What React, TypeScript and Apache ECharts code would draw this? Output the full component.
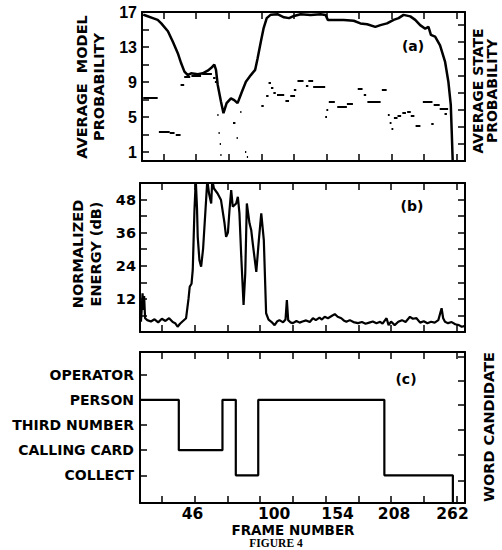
import React, { useEffect, useRef } from 'react';
import * as echarts from 'echarts';

// ---------- data ----------
const frameTicks = [19, 46, 73, 100, 127, 154, 181, 208, 235, 262];
const frameLabels = [46, 100, 154, 208, 262];

// (a) average model probability (solid line)
const modelFrames = [2, 4, 10, 14, 17, 22.5, 26.6, 30.7, 33.5, 36.2, 39, 41.7, 47.3, 51.4, 55.5, 58.3, 61, 62.4, 63.8, 66.5, 68.6, 71.2, 74.8, 77.5, 80.3, 83.9, 87.2, 91.3, 94.9, 96.9, 99.6, 101.8, 104.5, 107.9, 113.4, 118.8, 123, 127.1, 132.6, 140.9, 149.2, 153.3, 155.2, 160.2, 168.4, 176.7, 182.2, 187.8, 194.6, 198.8, 204.3, 209.8, 213.9, 218, 223.6, 227.7, 231.8, 236, 238.7, 240.7, 244.2, 248.3, 252.5, 255.2, 257.2, 258, 258.8];
const modelValues = [16.7, 16.6, 16.3, 16.1, 15.7, 14.8, 13.6, 12.3, 11.15, 10.2, 9.8, 10.0, 9.9, 10.0, 10.3, 10.6, 11.0, 10.4, 8.7, 6.8, 5.45, 6.6, 7.15, 6.95, 6.6, 7.9, 9.05, 9.8, 10.4, 11.7, 13.6, 15.1, 16.3, 16.7, 16.75, 16.4, 16.3, 16.55, 16.75, 16.67, 16.75, 16.67, 16.1, 16.1, 16.1, 16.0, 15.7, 15.6, 15.3, 15.5, 15.7, 16.1, 16.3, 16.67, 16.5, 16.1, 15.5, 15.1, 15.3, 14.4, 14.2, 13.2, 11.3, 9.05, 6.4, 3.3, 0];

// (a) average state probability (short dashes: start frame, end frame, value)
const stateStart = [2, 15, 24, 29, 33, 36, 42, 51, 60, 61.5, 63.5, 64.5, 65.5, 66, 76.5, 79.5, 82.5, 86.5, 88, 100, 104, 106, 108, 110, 113, 120, 124, 127, 130, 137, 139, 143, 153, 154, 156, 163, 171, 180, 185, 188, 200, 205, 206.5, 208, 210, 213, 217, 221, 224, 228, 234, 241, 243, 248, 252];
const stateEnd = [14, 24, 28, 33, 36, 41, 50, 59, 62, 63, 64.5, 65.5, 66.5, 67, 78.5, 80.5, 83.5, 87.5, 89, 102, 106, 108, 110, 112, 119, 123, 128, 129, 135, 139, 143, 153, 154.5, 155.5, 161, 171, 176, 184, 187, 199, 204, 206.5, 208, 209.5, 213, 216, 220, 224, 227, 232, 242, 243, 248, 255, 254];
const stateValue = [7.2, 3.3, 3.2, 3.0, 8.7, 9.6, 9.7, 9.9, 9.5, 9.0, 5.25, 3.2, 2.0, 0.7, 4.4, 2.6, 5.6, 1.1, 0.5, 6.3, 7.4, 8.9, 8.4, 7.8, 7.6, 6.9, 7.45, 8.1, 9.2, 8.6, 9.1, 8.5, 5.0, 5.8, 6.8, 6.2, 6.55, 8.2, 7.6, 6.8, 8.1, 5.3, 4.4, 3.7, 4.9, 5.2, 5.45, 5.6, 5.2, 4.0, 6.8, 4.3, 6.4, 6.0, 5.4];

// (b) normalized energy (dB)
const energyFrames = [1.8, 2.5, 3.1, 3.8, 4.4, 5.2, 7, 10, 13, 16, 19, 22, 25, 28, 30, 32, 34, 36, 39, 41, 42, 43.5, 44.5, 45.9, 47, 48, 48.6, 50, 51.4, 53, 55.5, 56.5, 58, 59.7, 60.6, 62, 65, 67.8, 70.7, 72, 73.5, 74.8, 76.2, 77.5, 80.3, 81.7, 83, 84.5, 86.4, 87.8, 89.1, 91.3, 92.7, 94, 96.9, 99, 101, 103.1, 105, 107, 109.3, 112, 114, 116, 119, 121, 122.1, 123.2, 125, 127.1, 130, 132.6, 135, 138, 141, 143.6, 146, 149, 151, 153.3, 156, 159, 161.6, 164, 167, 169, 171.2, 174, 177, 180.8, 184, 187, 190, 193, 196, 199, 201, 204.3, 206, 208, 211, 214, 217, 220, 223.6, 226, 229, 232, 235, 238, 241, 244, 247, 249.7, 251, 252.5, 255, 258, 261, 264, 266.3, 269];
const energyValues = [3.7, 9, 14, 8, 13, 5, 4.3, 3.8, 4.6, 3.5, 4.8, 4.0, 5.0, 3.6, 3.2, 1.9, 3.0, 3.8, 5.0, 12, 16.4, 17.5, 22.5, 44, 55, 45, 34.5, 26, 23.7, 30, 47.8, 55, 50, 46.6, 55, 52, 50.2, 47.8, 39.4, 34.5, 36, 44.2, 51.4, 45.4, 46.6, 49, 43, 27.3, 9.8, 21.3, 46.6, 39.4, 37, 32, 21.8, 33.3, 43, 33.3, 6.8, 4.5, 3.7, 2.5, 3.8, 4.3, 3.5, 4.5, 11.6, 4.3, 3.5, 3.2, 4.0, 3.4, 3.8, 4.2, 3.6, 5.0, 4.3, 5.2, 4.5, 5.5, 5.0, 5.8, 6.5, 5.5, 5.0, 4.2, 3.7, 4.3, 3.6, 3.2, 3.6, 3.0, 3.4, 3.8, 3.2, 3.7, 3.0, 5.0, 2.5, 3.8, 2.5, 3.7, 4.3, 3.6, 5.5, 4.8, 5.0, 3.4, 3.9, 3.2, 3.7, 3.4, 4.3, 8.6, 5, 3.7, 3.2, 3.6, 2.8, 2.5, 1.9, 2.2];

// (c) word candidate
const candidates = ['COLLECT', 'CALLING CARD', 'THIRD NUMBER', 'PERSON', 'OPERATOR'];
const wordFrames = [1, 33, 69, 80, 98.5, 202.5, 259];
const wordCandidates = ['PERSON', 'CALLING CARD', 'PERSON', 'COLLECT', 'PERSON', 'COLLECT', ''];

const modelTicks = [1, 3, 5, 7, 9, 11, 13, 15];
const modelLabels = [1, 5, 9, 13, 17];
const stateTicks = [1.95, 3.9, 5.8, 7.75, 9.7, 11.65, 13.6, 15.5];
const energyLabels = [12, 24, 36, 48];
const candidateRightTicks = [0.8, 1.8, 2.8, 3.8, 4.75, 5.7];

// ---------- styles ----------
const SANS = 'DejaVu Sans';
const black = '#000';

const axisLine = { show: true, onZero: false, lineStyle: { color: black, width: 2 } };
const tick = (vals?: number[]) => ({
  show: true,
  inside: true,
  length: 7,
  lineStyle: { color: black, width: 1.5 },
  ...(vals ? { customValues: vals } : {}),
});

const labelPad: Record<number, number[]> = {
  46: [0, 4, 0, 0],
  100: [0, 0, 0, 28],
  154: [0, 0, 0, 24],
  208: [0, 0, 0, 6],
  262: [0, 8, 0, 0],
};

function xAxes(grid: number, withLabels: boolean) {
  const base = { type: 'value', gridIndex: grid, min: 1, max: 269, splitLine: { show: false } };
  const rich: Record<string, any> = {};
  frameLabels.forEach((v) => {
    rich['t' + v] = { padding: labelPad[v], fontFamily: SANS, fontWeight: 'bold', fontSize: 15.5, lineHeight: 14, color: black };
  });
  return [
    {
      ...base,
      position: 'bottom',
      axisLine,
      axisTick: tick(frameTicks),
      axisLabel: withLabels
        ? { show: true, customValues: frameLabels, margin: 4, formatter: (v: number) => `{t${v}|${v}}`, rich }
        : { show: false },
    },
    { ...base, position: 'top', axisLine, axisTick: tick(frameTicks), axisLabel: { show: false } },
  ];
}

export default function App() {
  const ref = useRef<HTMLDivElement>(null);
  useEffect(() => {
    if (!ref.current) return;
    const chart = echarts.init(ref.current, null, { renderer: 'svg' });

    const candIndex = (name: string) => (name === '' ? -0.1 : candidates.indexOf(name) + 1);

    const option: any = {
      animation: false,
      backgroundColor: '#fff',
      textStyle: { fontFamily: SANS, color: black },
      grid: [
        { left: 142, top: 12, width: 323, height: 149 },
        { left: 140, top: 183, width: 325, height: 149 },
        { left: 140, top: 352, width: 325, height: 151 },
      ],
      xAxis: [...xAxes(0, false), ...xAxes(1, false), ...xAxes(2, true)],
      yAxis: [
        {
          type: 'value', gridIndex: 0, position: 'left', min: 0, max: 17,
          splitLine: { show: false }, axisLine, axisTick: tick(modelTicks),
          axisLabel: {
            customValues: modelLabels, margin: 5, padding: [8, 0, 0, 0],
            fontFamily: 'Liberation Sans', fontWeight: 'bold', fontSize: 16, color: black,
          },
        },
        {
          type: 'value', gridIndex: 0, position: 'right', min: 0, max: 17,
          splitLine: { show: false }, axisLine, axisTick: tick(stateTicks), axisLabel: { show: false },
        },
        {
          type: 'value', gridIndex: 1, position: 'left', min: 0, max: 54, interval: 6,
          splitLine: { show: false }, axisLine, axisTick: tick(),
          axisLabel: {
            customValues: energyLabels, margin: 4,
            fontFamily: SANS, fontWeight: 'bold', fontSize: 14.5, color: black,
          },
        },
        {
          type: 'value', gridIndex: 1, position: 'right', min: 0, max: 54, interval: 6,
          splitLine: { show: false }, axisLine, axisTick: tick(), axisLabel: { show: false },
        },
        {
          type: 'value', gridIndex: 2, position: 'left', min: -0.1, max: 5.9,
          splitLine: { show: false }, axisLine, axisTick: tick([1, 2, 3, 4, 5]),
          axisLabel: {
            customValues: [1, 2, 3, 4, 5], margin: 6,
            formatter: (v: number) => candidates[Math.round(v) - 1] ?? '',
            fontFamily: SANS, fontWeight: 'bold', fontSize: 14, color: black,
          },
        },
        {
          type: 'value', gridIndex: 2, position: 'right', min: -0.1, max: 5.9,
          splitLine: { show: false }, axisLine, axisTick: tick(candidateRightTicks), axisLabel: { show: false },
        },
      ],
      series: [
        {
          type: 'line', xAxisIndex: 0, yAxisIndex: 0, showSymbol: false, silent: true,
          lineStyle: { color: black, width: 2.5 },
          data: modelFrames.map((f, i) => [f, modelValues[i]]),
        },
        {
          type: 'lines', coordinateSystem: 'cartesian2d', xAxisIndex: 0, yAxisIndex: 0, silent: true,
          lineStyle: { color: black, width: 2, opacity: 1 },
          data: stateStart.map((s, i) => ({ coords: [[s, stateValue[i]], [stateEnd[i], stateValue[i]]] })),
        },
        {
          type: 'line', xAxisIndex: 2, yAxisIndex: 2, showSymbol: false, silent: true,
          lineStyle: { color: black, width: 2.2 },
          data: energyFrames.map((f, i) => [f, energyValues[i]]),
        },
        {
          type: 'line', xAxisIndex: 4, yAxisIndex: 4, showSymbol: false, silent: true, step: 'end',
          lineStyle: { color: black, width: 2.2 },
          data: wordFrames.map((f, i) => [f, candIndex(wordCandidates[i])]),
        },
      ],
      graphic: [
        {
          type: 'text', x: 90, y: 87, rotation: Math.PI / 2,
          style: { text: 'AVERAGE  MODEL\nPROBABILITY', align: 'center', verticalAlign: 'middle', lineHeight: 17, fontFamily: SANS, fontWeight: 'bold', fontSize: 14.5, fill: black },
        },
        {
          type: 'text', x: 87, y: 254, rotation: Math.PI / 2,
          style: { text: 'NORMALIZED\nENERGY (dB)', align: 'center', verticalAlign: 'middle', lineHeight: 18.5, fontFamily: SANS, fontWeight: 'bold', fontSize: 14.5, fill: black },
        },
        {
          type: 'text', x: 485, y: 91, rotation: Math.PI / 2,
          style: { text: 'AVERAGE STATE\nPROBABILITY', align: 'center', verticalAlign: 'middle', lineHeight: 14.5, fontFamily: SANS, fontWeight: 'bold', fontSize: 14, fill: black },
        },
        {
          type: 'text', x: 489, y: 427, rotation: Math.PI / 2,
          style: { text: 'WORD CANDIDATE', align: 'center', verticalAlign: 'middle', fontFamily: SANS, fontWeight: 'bold', fontSize: 14.5, fill: black },
        },
        {
          type: 'text', x: 413, y: 46,
          style: { text: '(a)', align: 'center', verticalAlign: 'middle', fontFamily: SANS, fontWeight: 'bold', fontSize: 14, fill: black },
        },
        {
          type: 'text', x: 412, y: 206,
          style: { text: '(b)', align: 'center', verticalAlign: 'middle', fontFamily: SANS, fontWeight: 'bold', fontSize: 14, fill: black },
        },
        {
          type: 'text', x: 406, y: 379,
          style: { text: '(c)', align: 'center', verticalAlign: 'middle', fontFamily: SANS, fontWeight: 'bold', fontSize: 14, fill: black },
        },
        {
          type: 'text', x: 293, y: 530,
          style: { text: 'FRAME NUMBER', align: 'center', verticalAlign: 'middle', lineHeight: 13, fontFamily: SANS, fontWeight: 'bold', fontSize: 13.5, fill: black },
        },
        {
          type: 'text', x: 276, y: 543,
          style: { text: 'FIGURE 4', align: 'center', verticalAlign: 'middle', lineHeight: 11, fontFamily: 'Liberation Serif', fontWeight: 'bold', fontSize: 11.5, fill: black },
        },
      ],
    };
    chart.setOption(option);
    return () => chart.dispose();
  }, []);

  return (
    <div
      ref={ref}
      style={{ position: 'absolute', left: 0, top: 0, width: 502, height: 550, background: '#fff' }}
    />
  );
}
